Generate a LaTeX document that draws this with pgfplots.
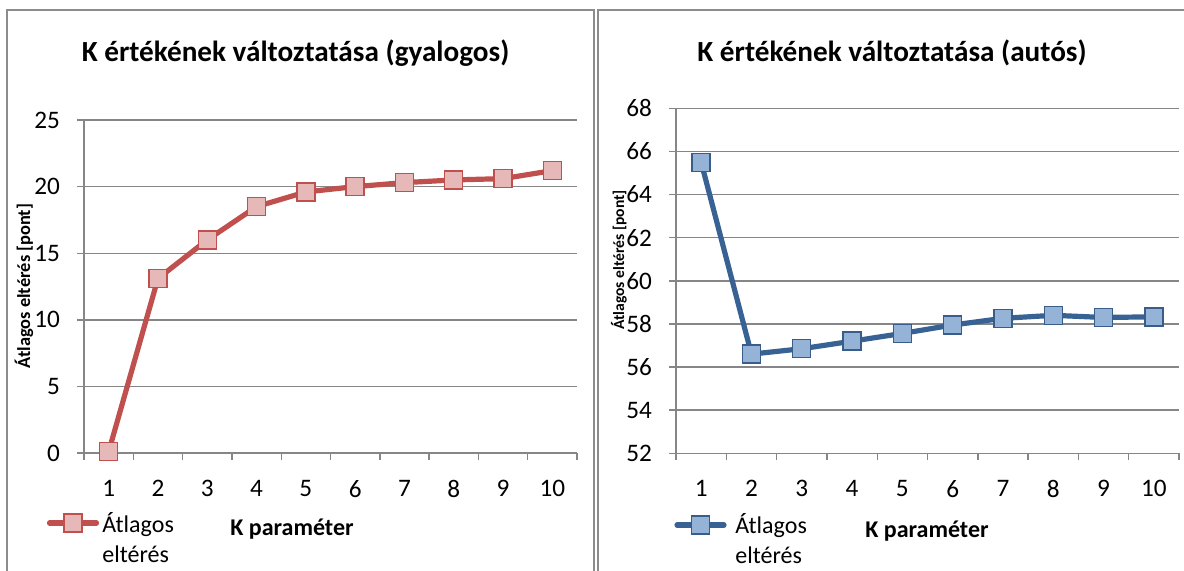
\documentclass[border=0pt]{standalone}
\usepackage{fontspec}
\setmainfont{Carlito}
\usepackage{pgfplots}
\pgfplotsset{compat=1.18}

\definecolor{gridgray}{RGB}{134,134,134}
\definecolor{framegray}{RGB}{140,140,140}
\definecolor{redline}{RGB}{192,80,77}
\definecolor{redfill}{RGB}{230,185,184}
\definecolor{blueline}{RGB}{57,98,148}
\definecolor{bluefill}{RGB}{149,179,215}
\definecolor{blueedge}{RGB}{56,93,138}

\pgfplotsset{kchart/.style={
  scale only axis,
  axis x line*=bottom, axis y line*=left,
  axis line style={gridgray, line width=0.7pt},
  xmin=0.5, xmax=10.5,
  xtick={1,...,10},
  minor xtick={0.5,1.5,...,10.5},
  tick align=outside,
  major tick length=3.5pt, minor tick length=3.5pt,
  every major x tick/.append style={draw=none},
  tick style={gridgray, line width=0.7pt},
  ymajorgrids,
  grid style={gridgray, line width=0.7pt},
  ticklabel style={font=\fontsize{12.6}{15}\selectfont, text=black},
  /pgf/number format/assume math mode=true,
  yticklabel style={xshift=-5pt},
  xticklabel style={yshift=-6.5pt},
  clip=false,
  % legend sample only, centred on its anchor; its text is set beside it in two lines
  legend image code/.code={
    \draw[line cap=round, mark=none] (-11.75pt,0pt) -- (11.75pt,0pt);
    \draw plot[only marks] coordinates {(0pt,0pt)};},
  legend style={draw=none, fill=none, inner sep=0pt, outer sep=0pt, anchor=center,
    nodes={inner sep=0pt}},
}}

\begin{document}
\begin{tikzpicture}
\useasboundingbox (0pt,0pt) rectangle (592pt,-285pt);

% chart frames
\draw[framegray, line width=0.7pt] (3.5pt,-290pt) -- (3.5pt,-5pt) -- (297pt,-5pt) -- (297pt,-290pt);
\draw[framegray, line width=0.7pt] (299pt,-290pt) -- (299pt,-5pt) -- (600pt,-5pt);

% walking
\begin{axis}[kchart,
  at={(42pt,-226.5pt)}, anchor=south west,
  width=246.5pt, height=166.5pt,
  ymin=0, ymax=25, ytick={0,5,...,25},
  legend style={at={(-0.0203,-0.2102)}}]
\addplot[redline, line width=2.6pt, mark=square*, mark size=4.5pt,
  mark options={solid, fill=redfill, draw=redline, line width=0.7pt}]
  coordinates {(1,0.1) (2,13.1) (3,16.0) (4,18.5) (5,19.6) (6,20.0) (7,20.3) (8,20.5) (9,20.6) (10,21.2)};
\addlegendentry{}
\end{axis}

% driving
\begin{axis}[kchart,
  at={(338pt,-226.65pt)}, anchor=south west,
  width=251.5pt, height=172.5pt,
  ymin=52, ymax=68, ytick={52,54,...,68},
  legend style={at={(0.0507,-0.2078)}}]
\addplot[blueline, line width=2.6pt, mark=square*, mark size=4.5pt,
  mark options={solid, fill=bluefill, draw=blueedge, line width=0.7pt}]
  coordinates {(1,65.5) (2,56.6) (3,56.85) (4,57.2) (5,57.56) (6,57.95) (7,58.26) (8,58.4) (9,58.3) (10,58.33)};
\addlegendentry{}
\end{axis}

% titles
\node[anchor=base, font=\fontsize{14.6}{17}\selectfont\bfseries] at (147.75pt,-30.5pt) {K értékének változtatása (gyalogos)};
\node[anchor=base, font=\fontsize{14.6}{17}\selectfont\bfseries] at (446pt,-30.5pt) {K értékének változtatása (autós)};

% axis titles
\node[rotate=90, font=\fontsize{9.2}{11}\selectfont\bfseries] at (12pt,-143pt) {Átlagos eltérés [pont]};
\node[rotate=90, font=\fontsize{7.8}{9}\selectfont\bfseries] at (309.5pt,-130pt) {Átlagos eltérés [pont]};
\node[font=\fontsize{12}{14}\selectfont\bfseries] at (146pt,-264.5pt) {K paraméter};
\node[font=\fontsize{12}{14}\selectfont\bfseries] at (463.5pt,-265.5pt) {K paraméter};

% legend text, two lines
\node[anchor=base west, inner sep=0pt, font=\fontsize{12}{14}\selectfont] at (51pt,-266pt) {Átlagos};
\node[anchor=base west, inner sep=0pt, font=\fontsize{12}{14}\selectfont] at (51pt,-281pt) {eltérés};
\node[anchor=base west, inner sep=0pt, font=\fontsize{12}{14}\selectfont] at (367.5pt,-266.5pt) {Átlagos};
\node[anchor=base west, inner sep=0pt, font=\fontsize{12}{14}\selectfont] at (367.5pt,-281.5pt) {eltérés};
\end{tikzpicture}
\end{document}
